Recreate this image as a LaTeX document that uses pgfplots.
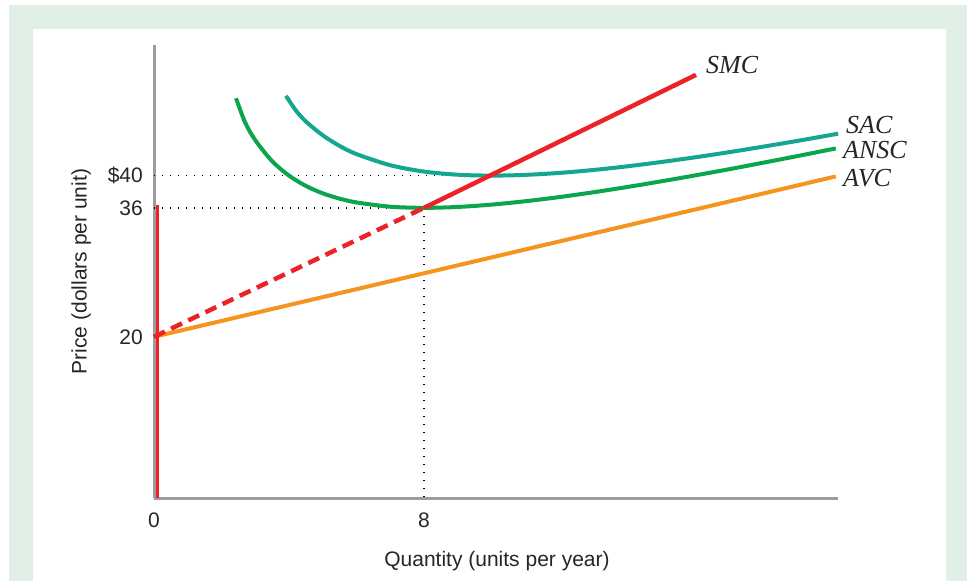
\documentclass[border=0pt]{standalone}
\usepackage{fontspec}
\setmainfont{Liberation Sans}
\newfontfamily\serifit{Liberation Serif}
\usepackage{pgfplots}
\pgfplotsset{compat=1.18}
\definecolor{bggreen}{HTML}{E0F0E6}
\definecolor{axisgray}{HTML}{9C9C9E}
\definecolor{smcred}{HTML}{ED2128}
\definecolor{sacteal}{HTML}{14A68F}
\definecolor{anscgreen}{HTML}{0BA64B}
\definecolor{avcorange}{HTML}{F7941E}
\begin{document}
\begin{tikzpicture}
\useasboundingbox (0,0) rectangle (967pt,-581pt);
\fill[white] (0,0) rectangle (967pt,-581pt);
\fill[bggreen] (9pt,-5pt) rectangle (967pt,-581pt);
\fill[white] (33pt,-29pt) rectangle (946pt,-581pt);
\begin{axis}[
  at={(154pt,-498pt)}, anchor=south west,
  x=33.75pt, y=8.06pt,
  xmin=0, xmax=20.27, ymin=0, ymax=56.2,
  axis lines=left,
  axis line style={-, draw=axisgray, line width=3pt},
  major tick length=0pt,
  xtick={0,8}, ytick={20,36,40},
  yticklabels={20,36,\$40},
  clip=false,
  /pgf/number format/assume math mode=true,
  tick label style={font=\fontsize{21}{25}\selectfont, text=black!85},
  yticklabel style={anchor=east, inner sep=0pt, xshift=-11pt},
  xticklabel style={anchor=base, inner sep=0pt, yshift=-29pt},
]
% dotted guide lines
\addplot[black, line width=1.4pt, dash pattern=on 1.4pt off 6.6pt] coordinates {(0,40) (10,40)};
\addplot[black, line width=1.4pt, dash pattern=on 1.4pt off 6.6pt] coordinates {(0,36) (8,36)};
\addplot[black, line width=1.4pt, dash pattern=on 1.4pt off 6.6pt] coordinates {(8,36) (8,0)};
% AVC
\addplot[avcorange, line width=4pt] coordinates {(0,20) (20.2,39.9)};
% SAC
\addplot[sacteal, line width=4pt, smooth] coordinates {
(3.91,49.9) (4.2,48.1) (4.5,46.72) (5,45) (5.5,43.68) (6,42.67) (7,41.29)
(8,40.5) (9,40.11) (10,40) (11,40.09) (12,40.33) (13,40.69) (14,41.14)
(15,41.67) (16,42.25) (17,42.88) (18,43.56) (19,44.26) (20.27,45.2)};
% ANSC
\addplot[anscgreen, line width=4pt, smooth] coordinates {
(2.43,49.6) (2.7,46.6) (3.0,44.4) (3.5,41.79) (4,40) (4.5,38.72) (5,37.8)
(5.5,37.14) (6,36.67) (7,36.14) (8,36) (9,36.11) (10,36.4) (11,36.82)
(12,37.33) (13,37.92) (14,38.57) (15,39.27) (16,40) (17,40.76) (18,41.56)
(19,42.37) (20.2,43.37)};
% SMC
\addplot[smcred, line width=4.5pt, dash pattern=on 12pt off 7pt] coordinates {(0,20) (8,36)};
\addplot[smcred, line width=4.5pt] coordinates {(8,36) (16.06,52.5)};
\addplot[smcred, line width=3pt] coordinates {(0.09,0) (0.09,36.3)};
\end{axis}
% curve labels
\begin{scope}[every node/.style={inner sep=0pt, font=\serifit\itshape\fontsize{26}{30}\selectfont, text=black!85}]
\node[anchor=base west] at (706pt,-73pt) {SMC};
\node[anchor=base west] at (846pt,-133pt) {SAC};
\node[anchor=base west] at (843pt,-158.7pt) {ANSC};
\node[anchor=base west] at (843pt,-186pt) {AVC};
\end{scope}
% axis labels
\node[anchor=base, inner sep=0pt, font=\fontsize{21}{25}\selectfont, text=black!85] at (497pt,-566.5pt) {Quantity (units per year)};
\node[anchor=base, rotate=90, inner sep=0pt, font=\fontsize{21}{25}\selectfont, text=black!85] at (86.7pt,-271.5pt) {Price (dollars per unit)};
\end{tikzpicture}
\end{document}
